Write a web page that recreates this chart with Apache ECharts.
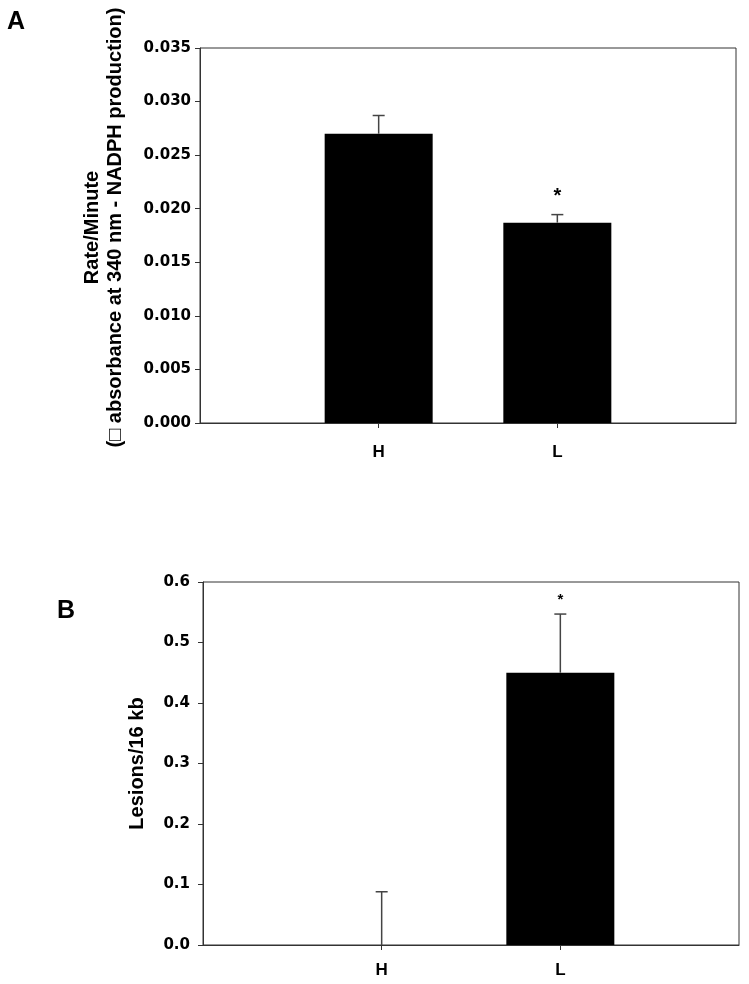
<!DOCTYPE html>
<html>
<head>
<meta charset="utf-8">
<script src="https://cdn.jsdelivr.net/npm/echarts@6/dist/echarts.min.js"></script>
<style>
body { margin: 0; background: #ffffff; }
#chart { width: 749px; height: 984px; }
</style>
</head>
<body>
<div id="chart"></div>
<script>
// groups
const categories = ["H", "L"];

// panel A: enzyme rate
const meansA = [0.0270, 0.0187];
const errA = [0.0017, 0.00075];
const sigA = ["", "*"];
const ticksA = { min: 0, max: 0.035, step: 0.005 };

// panel B: lesions
const meansB = [0.0, 0.45];
const errB = [0.088, 0.097];
const sigB = ["", "*"];
const ticksB = { min: 0, max: 0.6, step: 0.1 };

// pad the category axis so H and L sit at 1/3 and 2/3 of the box
const axisCats = [" "].concat(categories, ["  "]);

const font = "'Liberation Sans', Arial, sans-serif";
const numFont = "'DejaVu Sans', sans-serif";

const makeXAxis = (gridIndex, margin) => ({
  type: "category",
  gridIndex: gridIndex,
  data: axisCats,
  boundaryGap: false,
  axisLine: { lineStyle: { color: "#333", width: 1 } },
  axisTick: {
    length: 5,
    lineStyle: { color: "#333" },
    interval: (idx) => idx === 1 || idx === 2,
  },
  axisLabel: {
    interval: (idx) => idx === 1 || idx === 2,
    margin: margin,
    color: "#000",
    fontSize: 17,
    fontWeight: "bold",
    fontFamily: font,
  },
  splitLine: { show: false },
});

const makeYAxis = (gridIndex, t, digits, name, gap, margin, pad) => ({
  type: "value",
  gridIndex: gridIndex,
  min: t.min,
  max: t.max,
  interval: t.step,
  name: name,
  nameLocation: "middle",
  nameRotate: 90,
  nameGap: gap,
  nameTextStyle: {
    color: "#000",
    fontSize: 20,
    fontWeight: "bold",
    fontFamily: font,
    lineHeight: 23,
    align: "center",
    padding: pad,
  },
  axisLine: { show: true, lineStyle: { color: "#333", width: 1 } },
  axisTick: { show: true, length: 5, lineStyle: { color: "#333" } },
  axisLabel: {
    margin: margin,
    color: "#000",
    fontSize: 15,
    fontWeight: "bold",
    fontFamily: numFont,
    formatter: (v) => v.toFixed(digits),
  },
  splitLine: { show: false },
});

const barSeries = (idx, means) => ({
  type: "bar",
  xAxisIndex: idx,
  yAxisIndex: idx,
  barWidth: 108,
  itemStyle: { color: "#000" },
  data: means.map((v, i) => [categories[i], v]),
});

const errSeries = (idx, means, errs, sigs, starSize, starGap) => ({
  type: "custom",
  xAxisIndex: idx,
  yAxisIndex: idx,
  z: 5,
  data: means.map((v, i) => [i + 1, v, v + errs[i], i]),
  renderItem: (params, api) => {
    const base = api.coord([api.value(0), api.value(1)]);
    const top = api.coord([api.value(0), api.value(2)]);
    const half = 6;
    const style = { stroke: "#444", lineWidth: 1.5 };
    const children = [
      { type: "line", shape: { x1: base[0], y1: base[1], x2: top[0], y2: top[1] }, style: style },
      { type: "line", shape: { x1: top[0] - half, y1: top[1], x2: top[0] + half, y2: top[1] }, style: style },
    ];
    const s = sigs[api.value(3)];
    if (s) {
      children.push({
        type: "text",
        style: {
          text: s,
          x: top[0],
          y: top[1] - starGap,
          align: "center",
          verticalAlign: "middle",
          fill: "#000",
          font: "bold " + starSize + "px " + font,
        },
      });
    }
    return { type: "group", children: children };
  },
});

const chart = echarts.init(document.getElementById("chart"));

const option = {
  backgroundColor: "#ffffff",
  animation: false,
  grid: [
    { left: 200, right: 13, top: 48, bottom: 561, show: true, borderColor: "#333", borderWidth: 1 },
    { left: 203, right: 10, top: 582, bottom: 39, show: true, borderColor: "#333", borderWidth: 1 },
  ],
  xAxis: [makeXAxis(0, 21), makeXAxis(1, 17)],
  yAxis: [
    makeYAxis(0, ticksA, 3, "Rate/Minute\n(\u25A1 absorbance at 340 nm - NADPH production)", 73, 9, [0, 0, 0, 16]),
    makeYAxis(1, ticksB, 1, "Lesions/16 kb", 54, 13, 0),
  ],
  graphic: [
    { type: "text", left: 7, top: 10, style: { text: "A", fill: "#000", font: "bold 25px " + font } },
    { type: "text", left: 57, top: 599, style: { text: "B", fill: "#000", font: "bold 25px " + font } },
  ],
  series: [
    barSeries(0, meansA),
    errSeries(0, meansA, errA, sigA, 20, 18),
    barSeries(1, meansB),
    errSeries(1, meansB, errB, sigB, 15, 14),
  ],
};

chart.setOption(option);
</script>
</body>
</html>
